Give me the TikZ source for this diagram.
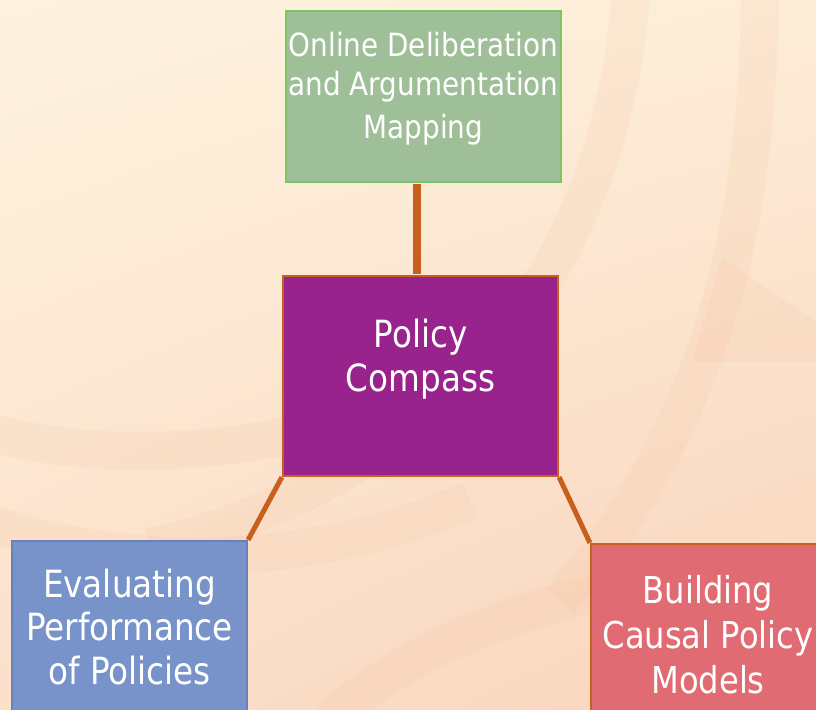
\documentclass[tikz,border=0pt]{standalone}
\usepackage{fontspec}
\setmainfont{DejaVu Sans}[FakeStretch=0.87]
\usetikzlibrary{calc,shadings}

\definecolor{bgtop}{HTML}{FEF3DF}
\definecolor{bgbot}{HTML}{F9D4BC}
\definecolor{swirl}{HTML}{F4C09C}
\definecolor{linkcol}{HTML}{C95F1E}
\definecolor{greenfill}{HTML}{9FBF99}
\definecolor{greenline}{HTML}{7CC567}
\definecolor{compassfill}{HTML}{98238C}
\definecolor{bluefill}{HTML}{7892CA}
\definecolor{blueline}{HTML}{6A7FC0}
\definecolor{redfill}{HTML}{E16B73}

\tikzset{
  topic/.style={draw, line width=2.2pt, inner sep=0pt},
  topictext/.style={text=white, align=center, inner sep=0pt},
  link/.style={draw=linkcol, line width=5pt},
  band/.style={draw=swirl, opacity=0.15, line width=38pt},
}

\begin{document}
\begin{tikzpicture}[x=1pt,y=-1pt]
    \useasboundingbox (0,0) rectangle (816,709);
    \shade[upper left=bgtop, upper right=bgtop!80!bgbot, lower left=bgtop!40!bgbot, lower right=bgbot] (0,0) rectangle (816,709);

    \begin{scope}
        \clip (0,0) rectangle (816,709);
        \draw[band] (632,-20) .. controls (615,260) and (460,470) .. (150,548);
        \draw[band] (-20,430) .. controls (120,470) and (300,450) .. (430,390);
        \draw[band] (-20,520) .. controls (150,580) and (330,560) .. (470,500);
        \draw[band] (330,720) .. controls (450,610) and (650,570) .. (830,565);
        \draw[band] (760,-20) .. controls (760,200) and (720,420) .. (560,600);
        \fill[swirl, opacity=0.15] (722,258) -- (830,330) -- (830,362) -- (692,362) -- cycle;
    \end{scope}

    \node[topic, fill=greenfill, draw=greenline, minimum width=275pt, minimum height=171pt] (online) at (423.5,96.5) {};
    \node[topic, fill=compassfill, draw=linkcol, minimum width=275pt, minimum height=200pt] (compass) at (420.5,376) {};
    \node[topic, fill=bluefill, draw=blueline, minimum width=235pt, minimum height=172pt] (eval) at (129.5,627) {};
    \node[topic, fill=redfill, draw=linkcol, minimum width=234pt, minimum height=182pt] (build) at (708,635) {};

    \node[topictext, font=\fontsize{32}{39}\selectfont] (onlinetext) at ($(online.center)+(0,-8)$) {Online Deliberation\\and Argumentation\\[4pt]Mapping};
    \node[topictext, font=\fontsize{37.5}{44}\selectfont] (compasstext) at ($(compass.center)+(0,-17)$) {Policy\\Compass};
    \node[topictext, font=\fontsize{37.5}{43.5}\selectfont] (evaltext) at ($(eval.center)+(0,0)$) {Evaluating\\Performance\\of Policies};
    \node[topictext, font=\fontsize{37}{45}\selectfont] (buildtext) at ($(build.center)+(0,0)$) {Building\\Causal Policy\\Models};

    \draw[link, line width=7.5pt] ($(compass.north)+(-3.5,-1)$) -- ($(online.south)+(-6.5,1)$);
    \draw[link] (compass.south west) -- (eval.north east);
    \draw[link] (compass.south east) -- (build.north west);
\end{tikzpicture}
\end{document}
